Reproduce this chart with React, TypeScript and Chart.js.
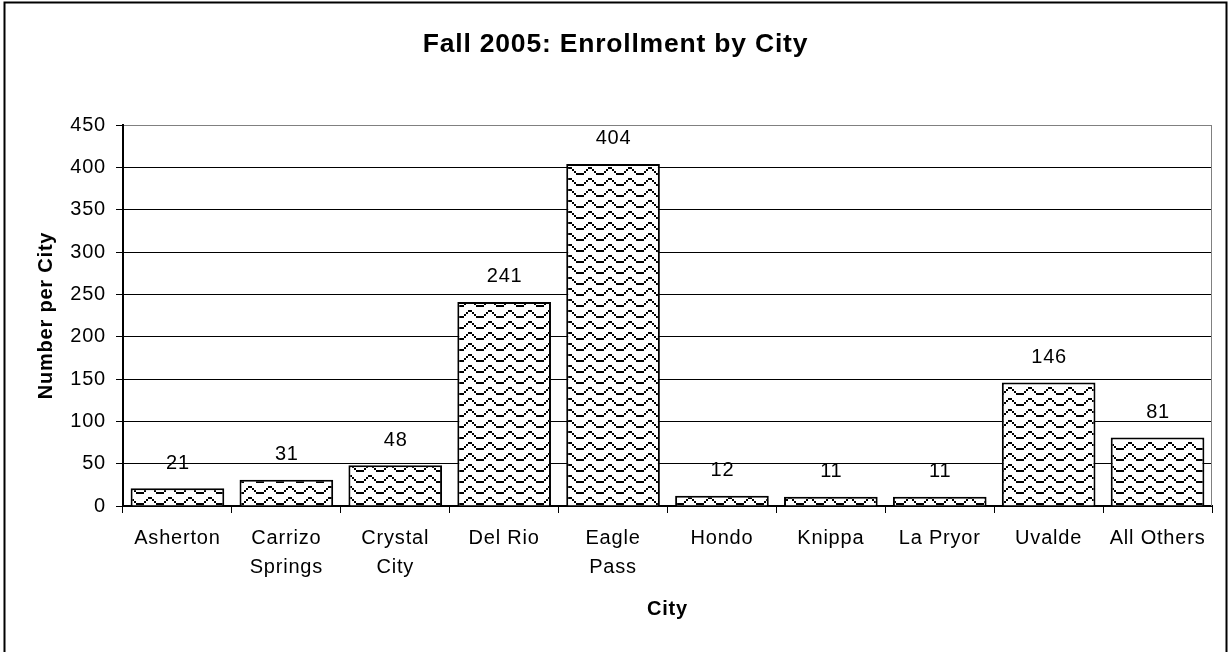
import React, { useEffect, useRef } from 'react';
import { Chart, registerables } from 'chart.js';

Chart.register(...registerables);

const cities: string[][] = [
  ['Asherton'],
  ['Carrizo', 'Springs'],
  ['Crystal', 'City'],
  ['Del Rio'],
  ['Eagle', 'Pass'],
  ['Hondo'],
  ['Knippa'],
  ['La Pryor'],
  ['Uvalde'],
  ['All Others'],
];
const enrollment: number[] = [21, 31, 48, 241, 404, 12, 11, 11, 146, 81];
const yMin = 0;
const yMax = 450;
const yStep = 50;
const chartTitle = 'Fall 2005: Enrollment by City';
const xAxisTitle = 'City';
const yAxisTitle = 'Number per City';

const FONT = "'Liberation Sans', Arial, Helvetica, sans-serif";
const SPACING = '0.8px';

function makeWavePattern(): CanvasPattern | string {
  const tile = document.createElement('canvas');
  tile.width = 20;
  tile.height = 11;
  const c = tile.getContext('2d');
  if (!c) return '#fff';
  c.fillStyle = '#fff';
  c.fillRect(0, 0, 20, 11);
  c.fillStyle = '#000';
  // stair-stepped wave, 2px blocks
  const steps = [8, 8, 6, 4, 2, 2, 4, 6, 8, 8];
  steps.forEach((yy, i) => {
    c.fillRect(i * 2, yy, 2, 2);
  });
  const p = c.createPattern(tile, 'repeat');
  return p || '#fff';
}

const spacingPlugin = {
  id: 'letterSpacing',
  beforeUpdate(chart: any) {
    chart.ctx.letterSpacing = SPACING;
  },
  beforeLayout(chart: any) {
    chart.ctx.letterSpacing = SPACING;
  },
  beforeDraw(chart: any) {
    chart.ctx.letterSpacing = SPACING;
  },
};

const framePlugin = {
  id: 'frame',
  beforeDraw(chart: any) {
    const ctx = chart.ctx;
    ctx.save();
    ctx.fillStyle = '#fff';
    ctx.fillRect(0, 0, chart.width, chart.height);
    ctx.strokeStyle = '#000';
    ctx.lineWidth = 2;
    ctx.strokeRect(4.5, 2.5, 1222, 660);
    ctx.restore();
  },
  afterDatasetsDraw(chart: any) {
    const ctx = chart.ctx;
    const a = chart.chartArea;
    ctx.save();
    ctx.strokeStyle = '#808080';
    ctx.lineWidth = 1;
    ctx.beginPath();
    ctx.moveTo(a.right - 0.5, a.top);
    ctx.lineTo(a.right - 0.5, a.bottom);
    ctx.stroke();
    // value labels
    ctx.letterSpacing = SPACING;
    ctx.fillStyle = '#000';
    ctx.font = `20px ${FONT}`;
    ctx.textAlign = 'center';
    ctx.textBaseline = 'middle';
    const meta = chart.getDatasetMeta(0);
    meta.data.forEach((bar: any, i: number) => {
      ctx.fillText(String(enrollment[i]), bar.x + 0.5, bar.y - 25);
    });
    ctx.restore();
  },
};

export default function App() {
  const ref = useRef<HTMLCanvasElement | null>(null);

  useEffect(() => {
    if (!ref.current) return;
    const pattern = makeWavePattern();
    const chart = new Chart(ref.current, {
      type: 'bar',
      data: {
        labels: cities,
        datasets: [
          {
            data: enrollment,
            backgroundColor: pattern as any,
            borderColor: '#000',
            borderWidth: 2,
            barPercentage: 0.86,
            categoryPercentage: 1,
          },
        ],
      },
      options: {
        animation: false,
        responsive: false,
        devicePixelRatio: 1,
        layout: { padding: { top: 4, left: 19, right: 19, bottom: 4 } },
        plugins: {
          legend: { display: false },
          tooltip: { enabled: false },
          title: {
            display: true,
            text: chartTitle,
            color: '#000',
            font: { family: FONT, size: 26.5, weight: 'bold', lineHeight: 1.2 },
            padding: { top: 24.5, bottom: 64.7 },
          },
        },
        scales: {
          x: {
            grid: {
              display: true,
              drawOnChartArea: false,
              offset: true,
              tickLength: 7,
              color: '#000',
              lineWidth: 1,
            },
            border: { color: '#000', width: 2 },
            ticks: {
              color: '#000',
              font: { family: FONT, size: 20, lineHeight: 1.45 },
              padding: 10.5,
              maxRotation: 0,
              minRotation: 0,
              autoSkip: false,
            },
            title: {
              display: true,
              text: xAxisTitle,
              color: '#000',
              font: { family: FONT, size: 20, weight: 'bold', lineHeight: 1.2 },
              padding: { top: 0, bottom: 27 },
            },
            afterFit(scale: any) {
              scale.height = 142;
            },
          },
          y: {
            min: yMin,
            max: yMax,
            ticks: {
              stepSize: yStep,
              color: '#000',
              font: { family: FONT, size: 20 },
              padding: 10,
            },
            grid: {
              color: (c: any) => (c.tick && c.tick.value === yMax ? '#808080' : '#000'),
              tickColor: '#000',
              lineWidth: 1,
              tickLength: 7,
            },
            border: { color: '#000', width: 2 },
            title: {
              display: true,
              text: yAxisTitle,
              color: '#000',
              font: { family: FONT, size: 20, weight: 'bold', lineHeight: 1.2 },
              padding: { top: 15, bottom: 0 },
            },
            afterFit(scale: any) {
              scale.width = 104;
            },
          },
        },
      },
      plugins: [spacingPlugin, framePlugin],
    });
    return () => chart.destroy();
  }, []);

  return (
    <div style={{ position: 'fixed', left: 0, top: 0, width: 1231, height: 652, background: '#fff' }}>
      <canvas ref={ref} width={1231} height={652} style={{ display: 'block' }} />
    </div>
  );
}
